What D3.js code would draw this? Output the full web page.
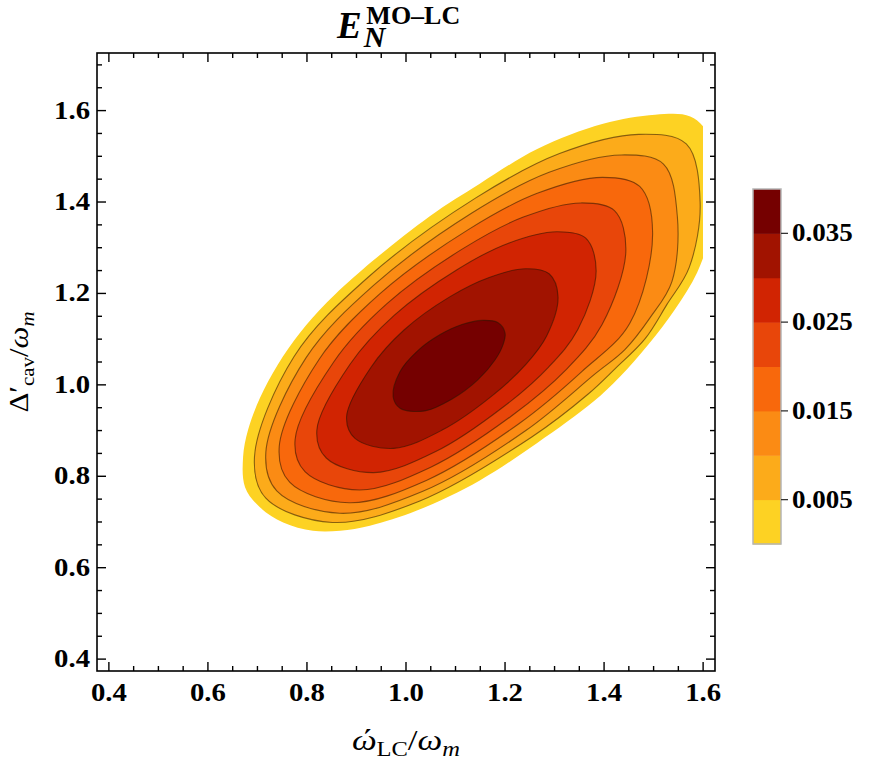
<!DOCTYPE html>
<html lang="en">
<head>
<meta charset="UTF-8">
<title>E_N MO-LC</title>
<script src="https://d3js.org/d3.v7.min.js"></script>
<style>
  body { margin: 0; background: #fff; }
  text { font-family: "Liberation Serif", "DejaVu Serif", serif; fill: #000; }
</style>
</head>
<body>
<svg id="main" width="871" height="765"></svg>
<script>
// contour levels and band colours (band i lies between levels[i] and levels[i+1])
const levels = [0, 0.005, 0.01, 0.015, 0.02, 0.025, 0.03, 0.035];
const bandColors = ["#fdd223", "#fcab1a", "#fb8b14", "#f8680c", "#e8460a", "#d12402", "#a11300", "#750000"];
const xTicks = [0.4, 0.6, 0.8, 1.0, 1.2, 1.4, 1.6];
const yTicks = [0.4, 0.6, 0.8, 1.0, 1.2, 1.4, 1.6];
const barTicks = [0.005, 0.015, 0.025, 0.035];

// contour lines, [omega_LC, Delta_cav]
const c000 = [[0.671,0.842],[0.675,0.776],[0.705,0.732],[0.752,0.699],[0.812,0.681],[0.867,0.681],
  [0.927,0.692],[1.022,0.725],[1.149,0.791],[1.265,0.873],[1.378,0.963],[1.432,1.018],[1.489,1.088],
  [1.543,1.165],[1.588,1.246],[1.614,1.330],[1.628,1.451],[1.610,1.549],[1.574,1.587],[1.503,1.591],
  [1.398,1.571],[1.265,1.516],[1.149,1.440],[1.048,1.369],[0.913,1.253],[0.840,1.180],[0.786,1.114],
  [0.741,1.044],[0.705,0.971],[0.681,0.901]];
const c005 = [[0.694,0.842],[0.717,0.752],[0.851,0.699],[1.028,0.746],[1.254,0.886],[1.368,0.980],
  [1.422,1.035],[1.483,1.101],[1.527,1.176],[1.572,1.257],[1.594,1.399],[1.566,1.527],[1.470,1.548],
  [1.310,1.506],[1.141,1.409],[0.924,1.236],[0.774,1.062]];
const c010 = [[0.717,0.853],[0.739,0.768],[0.866,0.719],[1.034,0.767],[1.242,0.900],[1.383,1.025],
  [1.442,1.077],[1.493,1.147],[1.537,1.226],[1.548,1.368],[1.520,1.483],[1.435,1.503],[1.289,1.465],
  [1.133,1.376],[0.935,1.218],[0.798,1.059]];
const c015 = [[0.744,0.865],[0.765,0.787],[0.885,0.742],[1.041,0.791],[1.228,0.915],[1.355,1.029],
  [1.452,1.135],[1.498,1.333],[1.472,1.434],[1.397,1.454],[1.265,1.419],[1.125,1.339],[0.947,1.199],[0.824,1.055]];
const c020 = [[0.776,0.880],[0.796,0.810],[0.906,0.770],[1.050,0.820],[1.213,0.932],[1.324,1.034],
  [1.396,1.132],[1.444,1.294],[1.421,1.381],[1.353,1.398],[1.237,1.367],[1.115,1.298],[0.961,1.177],[0.854,1.050]];
const c025 = [[0.820,0.901],[0.839,0.840],[0.935,0.808],[1.060,0.854],[1.197,0.952],[1.288,1.039],
  [1.347,1.121],[1.384,1.249],[1.363,1.321],[1.304,1.335],[1.207,1.310],[1.103,1.252],[0.976,1.152],[0.887,1.045]];
const c030 = [[0.880,0.930],[0.897,0.883],[0.975,0.861],[1.073,0.901],[1.175,0.977],[1.243,1.046],
  [1.284,1.107],[1.307,1.193],[1.289,1.243],[1.241,1.254],[1.168,1.235],[1.089,1.193],[0.996,1.120],[0.929,1.038]];
const c035 = [[0.974,0.974],[0.988,0.949],[1.038,0.943],[1.093,0.969],[1.145,1.011],[1.180,1.055],
  [1.196,1.088],[1.200,1.114],[1.186,1.136],[1.154,1.141],[1.113,1.132],[1.069,1.110],[1.024,1.075],[0.988,1.029]];
const contours = [c000, c005, c010, c015, c020, c025, c030, c035];

const svg = d3.select("svg#main");
const fL = 97, fR = 715, fT = 53, fB = 671;

const x = d3.scaleLinear().domain([0.376, 1.624]).range([fL, fR]);
const y = d3.scaleLinear().domain([0.374, 1.726]).range([fB, fT]);

// horizontal stretch of the labels
function stretch(sel, k) {
  sel.each(function() {
    const w = this.getComputedTextLength();
    d3.select(this).attr("textLength", w * k).attr("lengthAdjust", "spacingAndGlyphs");
  });
}

svg.append("clipPath").attr("id", "dataclip")
  .append("rect")
  .attr("x", fL).attr("y", fT)
  .attr("width", x(1.6) - fL).attr("height", fB - fT);

const line = d3.line()
  .x(d => x(d[0]))
  .y(d => y(d[1]))
  .curve(d3.curveCatmullRomClosed.alpha(0.5));

const plot = svg.append("g").attr("clip-path", "url(#dataclip)");

plot.selectAll("path.band")
  .data(contours)
  .enter()
  .append("path")
  .attr("class", "band")
  .attr("d", d => line(d))
  .attr("fill", (d, i) => bandColors[i])
  .attr("stroke", (d, i) => i === 0 ? "none" : "rgba(40,20,0,0.55)")
  .attr("stroke-width", 1.1);

// frame
svg.append("rect")
  .attr("x", fL).attr("y", fT)
  .attr("width", fR - fL).attr("height", fB - fT)
  .attr("fill", "none").attr("stroke", "#000").attr("stroke-width", 1.6);

// ticks on all four sides
const xMinor = d3.range(0.4, 1.6001, 0.05).map(v => +v.toFixed(2));
const yMinor = d3.range(0.4, 1.7001, 0.05).map(v => +v.toFixed(2));
const isMajor = v => Math.abs(v * 5 - Math.round(v * 5)) < 1e-6;

const ticks = svg.append("g").attr("stroke", "#000").attr("stroke-width", 1.4);
xMinor.forEach(v => {
  const len = isMajor(v) ? 9 : 5;
  ticks.append("line").attr("x1", x(v)).attr("x2", x(v)).attr("y1", fB).attr("y2", fB - len);
  ticks.append("line").attr("x1", x(v)).attr("x2", x(v)).attr("y1", fT).attr("y2", fT + len);
});
yMinor.forEach(v => {
  const len = isMajor(v) ? 9 : 5;
  ticks.append("line").attr("y1", y(v)).attr("y2", y(v)).attr("x1", fL).attr("x2", fL + len);
  ticks.append("line").attr("y1", y(v)).attr("y2", y(v)).attr("x1", fR).attr("x2", fR - len);
});

// tick labels
svg.append("g").selectAll("text")
  .data(xTicks)
  .enter().append("text")
  .attr("x", d => x(d))
  .attr("y", fB + 30)
  .attr("text-anchor", "middle")
  .attr("font-size", 25).attr("font-weight", "bold")
  .text(d => d.toFixed(1))
  .call(stretch, 1.15);

svg.append("g").selectAll("text")
  .data(yTicks)
  .enter().append("text")
  .attr("x", fL - 7)
  .attr("y", d => y(d) + 8)
  .attr("text-anchor", "end")
  .attr("font-size", 25).attr("font-weight", "bold")
  .text(d => d.toFixed(1))
  .call(stretch, 1.15);

// axis titles
const xt = svg.append("text")
  .attr("x", (fL + fR) / 2).attr("y", 750)
  .attr("text-anchor", "middle")
  .attr("font-size", 30)
  .attr("textLength", 108).attr("lengthAdjust", "spacingAndGlyphs");
xt.append("tspan").attr("font-style", "italic").text("\u03CE");
xt.append("tspan").attr("font-size", 21).attr("dy", 6).text("LC");
xt.append("tspan").attr("dy", -6).text("/");
xt.append("tspan").attr("font-style", "italic").text("\u03C9");
xt.append("tspan").attr("font-style", "italic").attr("font-size", 21).attr("dy", 6).text("m");

const yt = svg.append("text")
  .attr("transform", "translate(28," + ((fT + fB) / 2) + ") rotate(-90)")
  .attr("text-anchor", "middle")
  .attr("font-size", 28)
  .attr("textLength", 101).attr("lengthAdjust", "spacingAndGlyphs");
yt.append("tspan").text("\u0394\u2032");
yt.append("tspan").attr("font-size", 19).attr("dy", 6).text("cav");
yt.append("tspan").attr("dy", -6).text("/");
yt.append("tspan").attr("font-style", "italic").text("\u03C9");
yt.append("tspan").attr("font-style", "italic").attr("font-size", 19).attr("dy", 6).text("m");

// title
const title = svg.append("text").attr("x", 337).attr("y", 38).attr("font-weight", "bold");
title.append("tspan").attr("font-size", 37).attr("font-style", "italic").text("E");
title.append("tspan").attr("font-size", 30).attr("font-style", "italic").attr("dx", 2).attr("dy", 9).text("N");
title.append("tspan").attr("font-size", 26).attr("dx", -19).attr("dy", -23).text("MO\u2013LC");

// colour bar
const cb = d3.scaleLinear().domain([0, 0.04]).range([544, 189]);
const barX = 753, barW = 28;
const bar = svg.append("g");
bar.selectAll("rect")
  .data(bandColors)
  .enter().append("rect")
  .attr("x", barX)
  .attr("y", (d, i) => cb((i + 1) * 0.005))
  .attr("width", barW)
  .attr("height", (d, i) => cb(i * 0.005) - cb((i + 1) * 0.005) + 0.5)
  .attr("fill", d => d);
bar.append("rect")
  .attr("x", barX).attr("y", cb(0.04))
  .attr("width", barW).attr("height", cb(0) - cb(0.04))
  .attr("fill", "none").attr("stroke", "#b5b5b5").attr("stroke-width", 1.5);

bar.selectAll("line.bt")
  .data(barTicks)
  .enter().append("line")
  .attr("class", "bt")
  .attr("x1", barX + barW).attr("x2", barX + barW + 7)
  .attr("y1", d => cb(d)).attr("y2", d => cb(d))
  .attr("stroke", "#333").attr("stroke-width", 1.3);

bar.selectAll("text")
  .data(barTicks)
  .enter().append("text")
  .attr("x", barX + barW + 11)
  .attr("y", d => cb(d) + 8)
  .attr("font-size", 25).attr("font-weight", "bold")
  .text(d => d.toFixed(3))
  .call(stretch, 1.08);
</script>
</body>
</html>
